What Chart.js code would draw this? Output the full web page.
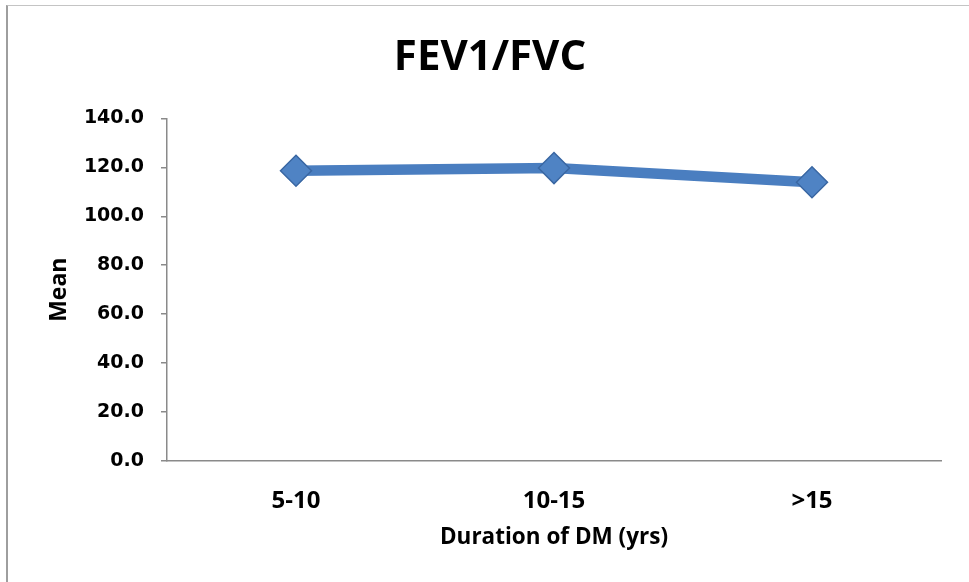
<!DOCTYPE html>
<html>
<head>
<meta charset="utf-8">
<script src="https://cdn.jsdelivr.net/npm/chart.js@4/dist/chart.umd.min.js"></script>
<style>
  html, body { margin: 0; padding: 0; background: #ffffff; }
  #wrap { position: relative; width: 969px; height: 582px; }
  #frame {
    position: absolute; left: 6px; top: 5px; right: 0; bottom: 0;
    border-left: 2px solid #9e9e9e; border-top: 1px solid #c4c4c4;
    pointer-events: none;
  }
  canvas { position: absolute; left: 0; top: 0; }
</style>
</head>
<body>
<div id="wrap">
  <canvas id="chart" width="969" height="582"></canvas>
  <div id="frame"></div>
</div>
<script>
// Mean FEV1/FVC by duration of diabetes
const categories = ['5-10', '10-15', '>15'];
const meanValues = [118.6, 119.7, 113.9];
const yTicks = [0, 20, 40, 60, 80, 100, 120, 140];

const sans = "'Open Sans', sans-serif";

new Chart(document.getElementById('chart'), {
  type: 'line',
  data: {
    labels: categories,
    datasets: [{
      label: 'Mean',
      data: meanValues,
      borderColor: '#4a7ec0',
      borderWidth: 10.5,
      tension: 0,
      pointStyle: 'rectRot',
      pointRadius: 15.5,
      pointHoverRadius: 15.5,
      pointBackgroundColor: '#4f83c4',
      pointBorderColor: '#3a67a3',
      pointBorderWidth: 1.5
    }]
  },
  options: {
    responsive: false,
    animation: false,
    layout: { padding: { left: 11, right: 0, top: 0, bottom: 0 } },
    plugins: {
      legend: { display: false },
      tooltip: { enabled: false },
      title: {
        display: true,
        text: 'FEV1/FVC',
        color: '#000000',
        font: { family: sans, size: 42, weight: 'bold', lineHeight: 1.2 },
        padding: { top: 33, bottom: 35 }
      }
    },
    scales: {
      x: {
        offset: true,
        grid: { display: false },
        border: { display: true, color: '#8a8a8a', width: 1.5 },
        ticks: {
          color: '#000000',
          padding: 18,
          font: { family: sans, size: 24, weight: 'bold' }
        },
        title: {
          display: true,
          text: 'Duration of DM (yrs)',
          color: '#000000',
          font: { family: sans, size: 22.5, weight: 'bold', lineHeight: 1.2 },
          padding: { top: 0, bottom: 31 }
        },
        afterFit: (s) => { s.height = 121; }
      },
      y: {
        min: 0,
        max: 140,
        afterBuildTicks: (s) => { s.ticks = yTicks.map(v => ({ value: v })); },
        grid: {
          display: true,
          drawOnChartArea: false,
          drawTicks: true,
          tickLength: 6,
          color: '#8a8a8a',
          lineWidth: 1.5
        },
        border: { display: true, color: '#8a8a8a', width: 1.5 },
        ticks: {
          color: '#000000',
          padding: 17,
          font: { family: "'DejaVu Sans', sans-serif", size: 19, weight: 'bold' },
          callback: (v) => Number(v).toFixed(1)
        },
        title: {
          display: true,
          text: 'Mean',
          color: '#000000',
          font: { family: sans, size: 23, weight: 'bold', lineHeight: 1.2 },
          padding: { top: 35, bottom: 0 }
        },
        afterFit: (s) => { s.width = 156; }
      },
      // empty right-hand margin of the plot, kept as a blank axis
      yRight: {
        position: 'right',
        display: true,
        min: 0,
        max: 140,
        grid: { display: false },
        border: { display: false },
        ticks: { display: false },
        afterFit: (s) => { s.width = 28; }
      }
    }
  }
});
</script>
</body>
</html>
